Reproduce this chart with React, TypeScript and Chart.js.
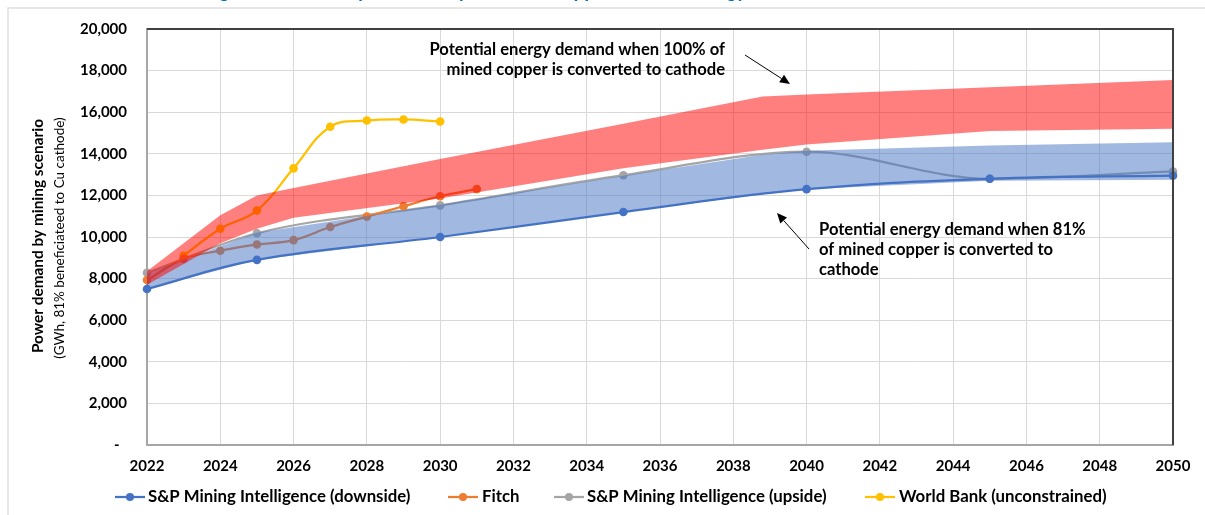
import React, { useEffect, useRef } from 'react';
import { Chart, registerables } from 'chart.js';

Chart.register(...registerables);

const FONT = 'Lato, "Open Sans", "DejaVu Sans", sans-serif';

// ---- Data ----
const xTickStart = 2022;
const xTickEnd = 2050;
const xTickStep = 2;
const yTickMax = 20000;
const yTickStep = 2000;

const downsideYears = [2022, 2025, 2030, 2035, 2040, 2045, 2050];
const downsideValues = [7500, 8900, 10000, 11200, 12300, 12800, 12950];

const upsideYears = [2022, 2025, 2030, 2035, 2040, 2045, 2050];
const upsideValues = [8280, 10180, 11520, 12970, 14100, 12800, 13150];

const fitchYears = [2022, 2023, 2024, 2025, 2026, 2027, 2028, 2029, 2030, 2031];
const fitchValues = [7930, 8950, 9340, 9640, 9850, 10480, 10980, 11480, 11960, 12300];

const worldBankYears = [2023, 2024, 2025, 2026, 2027, 2028, 2029, 2030];
const worldBankValues = [9100, 10400, 11270, 13300, 15300, 15600, 15650, 15550];

const band100Years = [2022, 2024, 2025, 2026, 2030, 2035, 2038.8, 2040, 2045, 2050];
const band100Upper = [8350, 11050, 12000, 12350, 13750, 15450, 16750, 16850, 17200, 17550];
const band100Lower = [7700, 9700, 10400, 10930, 11850, 13300, 14200, 14450, 15100, 15200];

const band81Years = [2022, 2025, 2030, 2035, 2038.8, 2040, 2045, 2050];
const band81Upper = [8250, 10200, 11550, 12950, 13950, 14150, 14400, 14550];
const band81Lower = [7500, 8900, 10000, 11200, 12050, 12300, 12700, 12750];

const legendLabels = [
  'S&P Mining Intelligence (downside)',
  'Fitch',
  'S&P Mining Intelligence (upside)',
  'World Bank (unconstrained)',
];
const seriesColors = ['#4472C4', '#ED7D31', '#A5A5A5', '#FFC000'];

const titleText = 'Figure 7: Electricity Demand by Scenario: copper cathode energy';
const yTitle1 = 'Power demand by mining scenario';
const yTitle2 = '(GWh, 81% beneficiateed to Cu cathode)';
const note100 = ['Potential energy demand when 100% of', 'mined copper is converted to cathode'];
const note81 = ['Potential energy demand when 81%', 'of mined copper is converted to', 'cathode'];

const pts = (xs: number[], ys: number[]) => xs.map((x, i) => ({ x, y: ys[i] }));

function arrow(ctx: CanvasRenderingContext2D, x1: number, y1: number, x2: number, y2: number) {
  ctx.save();
  ctx.strokeStyle = '#000';
  ctx.fillStyle = '#000';
  ctx.lineWidth = 1;
  const ang = Math.atan2(y2 - y1, x2 - x1);
  const hl = 10;
  const hw = 4.5;
  const bx = x2 - hl * Math.cos(ang);
  const by = y2 - hl * Math.sin(ang);
  ctx.beginPath();
  ctx.moveTo(x1, y1);
  ctx.lineTo(bx, by);
  ctx.stroke();
  ctx.beginPath();
  ctx.moveTo(x2, y2);
  ctx.lineTo(bx + hw * Math.sin(ang), by - hw * Math.cos(ang));
  ctx.lineTo(bx - hw * Math.sin(ang), by + hw * Math.cos(ang));
  ctx.closePath();
  ctx.fill();
  ctx.restore();
}

const overlayPlugin = {
  id: 'overlay',
  beforeDraw(chart: any) {
    const ctx: CanvasRenderingContext2D = chart.ctx;
    ctx.save();
    ctx.fillStyle = '#fff';
    ctx.fillRect(0, 0, chart.width, chart.height);
    // outer frame
    ctx.strokeStyle = '#E0E0E0';
    ctx.lineWidth = 1.5;
    ctx.strokeRect(8, 8, 1400, 700);
    // title (mostly cut off at top)
    ctx.fillStyle = '#0070C0';
    ctx.font = `italic bold 20px ${FONT}`;
    ctx.textAlign = 'left';
    ctx.textBaseline = 'alphabetic';
    ctx.fillText(titleText, 205, -3);
    ctx.restore();
  },
  afterDraw(chart: any) {
    const ctx: CanvasRenderingContext2D = chart.ctx;
    const { left, right, top, bottom } = chart.chartArea;
    ctx.save();
    // dark top and right border of plot area
    ctx.strokeStyle = '#404040';
    ctx.lineWidth = 2;
    ctx.beginPath();
    ctx.moveTo(left, top);
    ctx.lineTo(right, top);
    ctx.lineTo(right, bottom);
    ctx.stroke();

    // y-axis titles
    ctx.fillStyle = '#000';
    ctx.textAlign = 'center';
    ctx.textBaseline = 'middle';
    ctx.save();
    ctx.translate(38, 236);
    ctx.rotate(-Math.PI / 2);
    ctx.font = `bold 15.4px ${FONT}`;
    ctx.fillText(yTitle1, 0, 0);
    ctx.restore();
    ctx.save();
    ctx.translate(60, 238);
    ctx.rotate(-Math.PI / 2);
    ctx.font = `13.5px ${FONT}`;
    ctx.fillText(yTitle2, 0, 0);
    ctx.restore();

    // annotations
    ctx.font = `bold 16.6px ${FONT}`;
    ctx.textBaseline = 'alphabetic';
    ctx.textAlign = 'right';
    note100.forEach((t, i) => ctx.fillText(t, 725, 55 + i * 20));
    ctx.textAlign = 'left';
    note81.forEach((t, i) => ctx.fillText(t, 819, 235 + i * 20));
    arrow(ctx, 745, 55, 790, 84);
    arrow(ctx, 809, 249, 777, 213);

    // legend
    const legendItems = [
      { x1: 115, x2: 145, tx: 148 },
      { x1: 448, x2: 478, tx: 482 },
      { x1: 554, x2: 584, tx: 587 },
      { x1: 865, x2: 895, tx: 899 },
    ];
    const ly = 497;
    legendItems.forEach((it, i) => {
      ctx.strokeStyle = seriesColors[i];
      ctx.lineWidth = 2.25;
      ctx.beginPath();
      ctx.moveTo(it.x1, ly);
      ctx.lineTo(it.x2, ly);
      ctx.stroke();
      ctx.fillStyle = seriesColors[i];
      ctx.beginPath();
      ctx.arc((it.x1 + it.x2) / 2, ly, 4, 0, Math.PI * 2);
      ctx.fill();
      ctx.fillStyle = '#000';
      ctx.font = `bold 16.8px ${FONT}`;
      ctx.textAlign = 'left';
      ctx.textBaseline = 'middle';
      ctx.fillText(legendLabels[i], it.tx, ly);
    });
    ctx.restore();
  },
};

export default function App() {
  const ref = useRef<HTMLCanvasElement | null>(null);

  useEffect(() => {
    if (!ref.current) return;
    document.body.style.margin = '0';
    const lineDs = (label: string, xs: number[], ys: number[], color: string, monotone = false) => ({
      type: 'line' as const,
      label,
      data: pts(xs, ys),
      borderColor: color,
      backgroundColor: color,
      borderWidth: 2.25,
      pointRadius: 4.3,
      pointBorderWidth: 0,
      pointBackgroundColor: color,
      tension: 0.4,
      cubicInterpolationMode: monotone ? 'monotone' : 'default',
      fill: false,
      order: 10,
      clip: 8,
    });
    const edgeDs = (label: string, xs: number[], ys: number[], fillColor: string | null, order: number) => ({
      type: 'line' as const,
      label,
      data: pts(xs, ys),
      borderWidth: 0,
      borderColor: 'rgba(0,0,0,0)',
      pointRadius: 0,
      tension: 0,
      fill: fillColor ? '-1' : false,
      backgroundColor: fillColor || 'rgba(0,0,0,0)',
      order,
    });

    const chart = new Chart(ref.current, {
      type: 'line',
      data: {
        datasets: [
          lineDs(legendLabels[0], downsideYears, downsideValues, seriesColors[0]),
          lineDs(legendLabels[1], fitchYears, fitchValues, seriesColors[1]),
          lineDs(legendLabels[2], upsideYears, upsideValues, seriesColors[2], true),
          lineDs(legendLabels[3], worldBankYears, worldBankValues, seriesColors[3]),
          edgeDs('81% lower', band81Years, band81Lower, null, 2),
          edgeDs('81% upper', band81Years, band81Upper, 'rgba(68,114,196,0.5)', 2),
          edgeDs('100% lower', band100Years, band100Lower, null, 1),
          edgeDs('100% upper', band100Years, band100Upper, 'rgba(255,0,0,0.5)', 1),
        ] as any,
      },
      options: {
        responsive: false,
        animation: false,
        devicePixelRatio: 1,
        layout: { padding: { top: 24, right: 32, bottom: 0, left: 0 } },
        plugins: {
          legend: { display: false },
          title: { display: false },
          tooltip: { enabled: false },
        },
        scales: {
          x: {
            type: 'linear',
            min: xTickStart,
            max: xTickEnd,
            ticks: {
              stepSize: xTickStep,
              padding: 12,
              color: '#000',
              font: { family: FONT, size: 15, weight: 'bold' },
              callback: (v: any) => String(v),
              maxRotation: 0,
            },
            grid: { color: '#D9D9D9', lineWidth: 1, drawTicks: false },
            border: { color: '#A6A6A6', width: 2 },
            afterFit: (s: any) => {
              s.height = 70;
            },
          },
          y: {
            min: 0,
            max: yTickMax,
            ticks: {
              stepSize: yTickStep,
              padding: 20,
              color: '#000',
              font: { family: FONT, size: 15, weight: 'bold' },
              callback: (v: any) => (v === 0 ? '-  ' : Number(v).toLocaleString('en-US')),
            },
            grid: { color: '#D9D9D9', lineWidth: 1, drawTicks: false },
            border: { color: '#A6A6A6', width: 2 },
            afterFit: (s: any) => {
              s.width = 147;
            },
          },
        },
      } as any,
      plugins: [overlayPlugin],
    });
    return () => chart.destroy();
  }, []);

  return (
    <div style={{ position: 'absolute', left: 0, top: 0, width: 1205, height: 515 }}>
      <canvas ref={ref} width={1205} height={515} style={{ width: 1205, height: 515, display: 'block' }} />
    </div>
  );
}
